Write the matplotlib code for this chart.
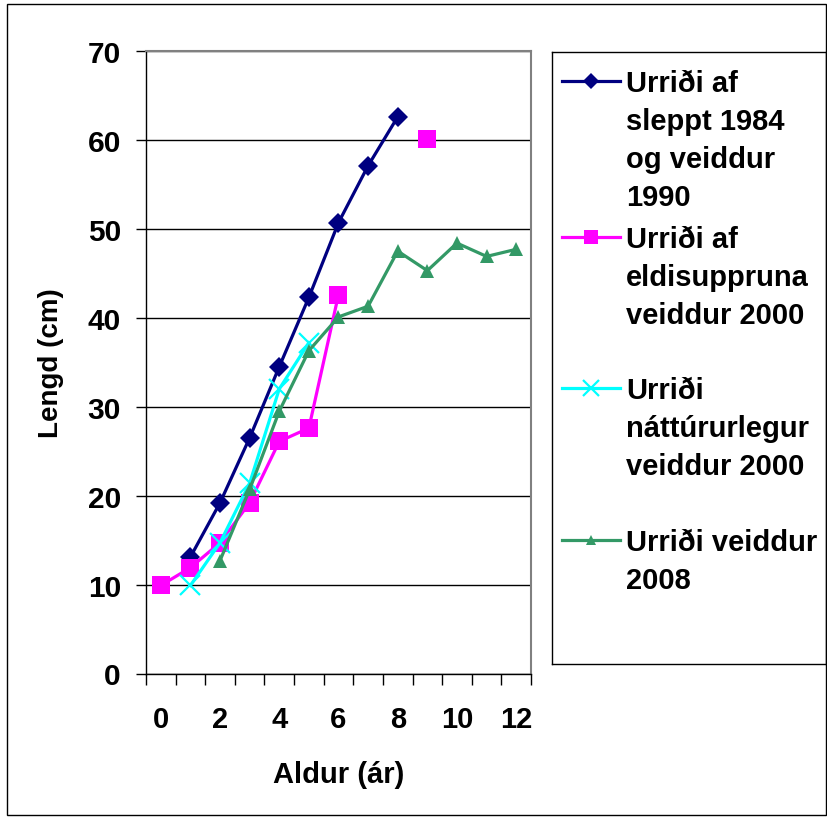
import numpy as np
import matplotlib.pyplot as plt
from matplotlib.patches import Rectangle

plt.rcParams['font.family'] = ['Liberation Sans', 'DejaVu Sans']

ages = list(range(13))
nan = np.nan

# lengths (cm) per age, NaN = no data
s1984 = [nan, 13.1, 19.2, 26.5, 34.5, 42.3, 50.7, 57.1, 62.6, nan, nan, nan, nan]
s2000_eldi = [9.9, 11.9, 14.7, 19.2, 26.1, 27.6, 42.6, nan, nan, 60.1, nan, nan, nan]
s2000_natt = [nan, 9.9, 14.7, 21.4, 32.0, 37.2, nan, nan, nan, nan, nan, nan, nan]
s2008 = [nan, nan, 12.7, 20.7, 29.5, 36.3, 40.1, 41.3, 47.5, 45.3, 48.4, 46.9, 47.7]

labels = ['Urriði af\nsleppt 1984\nog veiddur\n1990',
          'Urriði af\neldisuppruna\nveiddur 2000',
          'Urriði\nnáttúrurlegur\nveiddur 2000',
          'Urriði veiddur\n2008']

styles = [
    dict(color='#000080', marker='D', ms=10.5, lw=2.3, mew=0),
    dict(color='#FF00FF', marker='s', ms=13, lw=2.3, mew=0),
    dict(color='#00FFFF', marker='x', ms=14, lw=2.3, mew=1.6),
    dict(color='#339966', marker='^', ms=9.5, lw=2.3, mew=0),
]
series = [s1984, s2000_eldi, s2000_natt, s2008]

W, H = 828, 820
fig = plt.figure(figsize=(W / 100, H / 100), dpi=100)

def px_axes(l, t, r, b):
    return fig.add_axes([l / W, 1 - b / H, (r - l) / W, (b - t) / H])

ax = px_axes(146, 52, 531, 674.5)
for vals, st in zip(series, styles):
    ax.plot(ages, vals, color=st['color'], marker=st['marker'], markersize=st['ms'],
            linewidth=st['lw'], markeredgewidth=st['mew'], markeredgecolor=st['color'],
            clip_on=False)

ax.set_xlim(-0.5, 12.5)
ax.set_ylim(0, 70)
ax.set_yticks(range(0, 71, 10))
ax.yaxis.grid(True, color='black', linewidth=1)
ax.set_axisbelow(True)
ax.tick_params(axis='y', direction='out', length=7, width=1, pad=11, labelsize=21.5)
for lab in ax.get_yticklabels():
    lab.set_fontweight('bold')

ax.set_xticks(np.arange(-0.5, 13, 1))
ax.set_xticklabels([])
ax.tick_params(axis='x', which='major', direction='out', length=8, width=1)
ax.set_xticks(ages[::2], minor=True)
ax.set_xticklabels([str(a) for a in ages[::2]], minor=True, fontsize=21, fontweight='bold')
ax.tick_params(axis='x', which='minor', length=0, pad=23)

for side in ['top', 'right']:
    ax.spines[side].set_color('#808080')
    ax.spines[side].set_linewidth(1.5)
for side in ['left', 'bottom']:
    ax.spines[side].set_color('black')
    ax.spines[side].set_linewidth(1)

ax.set_xlabel('Aldur (ár)', fontsize=21, fontweight='bold', labelpad=19)
ax.set_ylabel('Lengd (cm)', fontsize=20, fontweight='bold', labelpad=17)

# legend box drawn by hand so the handle sits at the first text line
lg = px_axes(552, 53, 826, 665)
lg.set_xlim(552, 826)
lg.set_ylim(665, 53)
lg.set_xticks([])
lg.set_yticks([])
for sp in lg.spines.values():
    sp.set_color('black')
    sp.set_linewidth(1)
entry_y = [82, 238, 389, 541]
for y, lab, st in zip(entry_y, labels, styles):
    lg.plot([562, 620], [y, y], color=st['color'], linewidth=st['lw'])
    lg.plot([591], [y], color=st['color'], marker=st['marker'], markersize=st['ms'] * 0.8,
            markeredgewidth=st['mew'], markeredgecolor=st['color'])
    lg.text(626, y - 12, lab, fontsize=21, fontweight='bold', va='top', ha='left',
            linespacing=1.45)

fig.patches.append(Rectangle((7 / W, 1 - 816 / H), 819 / W, 811 / H, transform=fig.transFigure,
                             fill=False, edgecolor='black', linewidth=1))

fig.savefig('out.png', dpi=100)
